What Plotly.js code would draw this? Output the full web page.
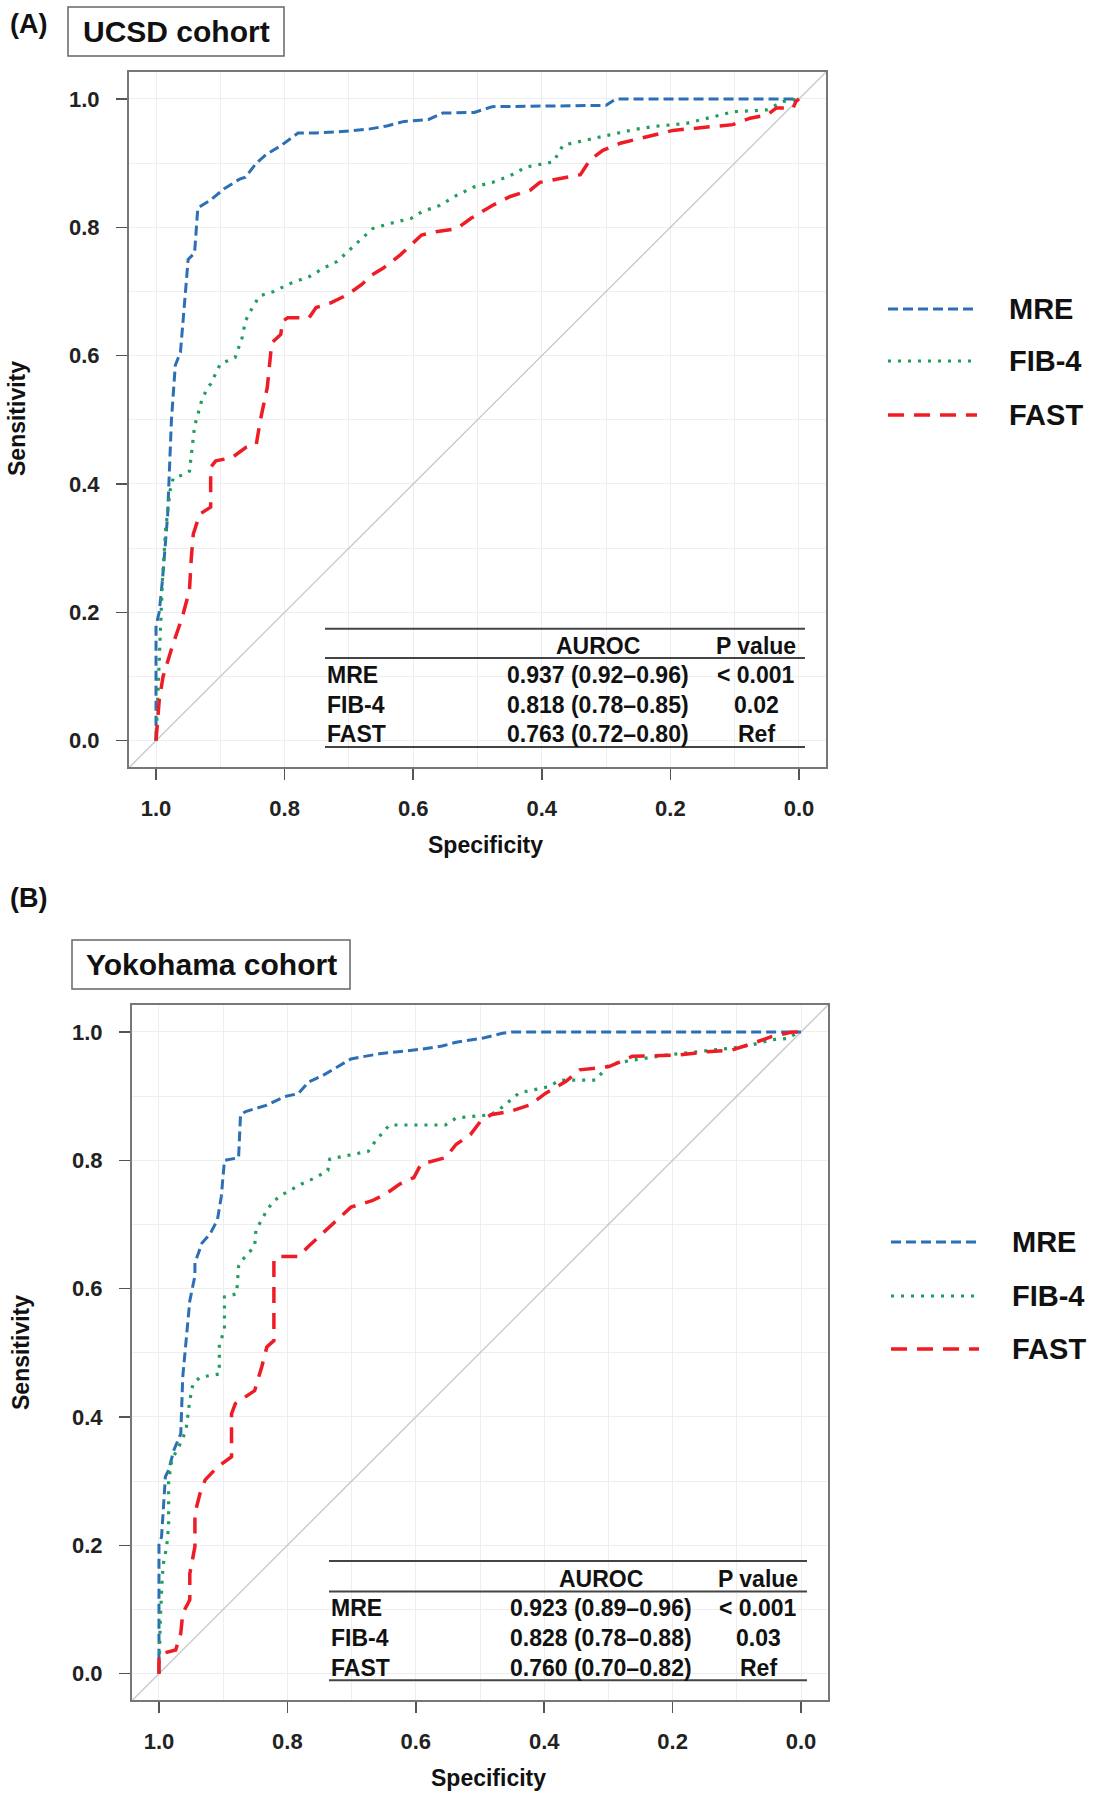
<!DOCTYPE html>
<html>
<head>
<meta charset="utf-8">
<script src="https://cdn.plot.ly/plotly-3.0.1.min.js"></script>
<style>
  body { margin: 0; background: #fff; }
  #chart { width: 1095px; height: 1800px; }
</style>
</head>
<body>
<div id="chart"></div>
<script>
// ROC curves: x = specificity, y = sensitivity
var seriesNames = ["MRE", "FIB-4", "FAST"];

// (A) UCSD cohort
var ucsdMreSpec = [1.0, 1.0, 0.995, 0.99, 0.982, 0.976, 0.970, 0.962, 0.950, 0.940, 0.935, 0.916, 0.894, 0.870, 0.861, 0.844, 0.828, 0.806, 0.779, 0.751, 0.700, 0.669, 0.641, 0.614, 0.576, 0.554, 0.505, 0.477, 0.300, 0.285, 0.0];
var ucsdMreSens = [0.0, 0.18, 0.20, 0.25, 0.35, 0.50, 0.585, 0.605, 0.75, 0.76, 0.83, 0.842, 0.86, 0.875, 0.878, 0.90, 0.914, 0.927, 0.947, 0.947, 0.95, 0.953, 0.958, 0.965, 0.968, 0.978, 0.979, 0.988, 0.99, 1.0, 1.0];

var ucsdFibSpec = [1.0, 0.998, 0.995, 0.99, 0.985, 0.978, 0.973, 0.955, 0.948, 0.945, 0.94, 0.929, 0.921, 0.915, 0.90, 0.877, 0.866, 0.861, 0.85, 0.839, 0.817, 0.79, 0.762, 0.74, 0.718, 0.702, 0.691, 0.674, 0.663, 0.636, 0.603, 0.587, 0.559, 0.532, 0.505, 0.477, 0.45, 0.424, 0.382, 0.367, 0.309, 0.258, 0.227, 0.175, 0.134, 0.103, 0.05, 0.025, 0.0];
var ucsdFibSens = [0.0, 0.05, 0.15, 0.25, 0.33, 0.39, 0.41, 0.415, 0.42, 0.45, 0.49, 0.53, 0.548, 0.556, 0.587, 0.597, 0.628, 0.654, 0.675, 0.693, 0.70, 0.713, 0.723, 0.736, 0.747, 0.762, 0.772, 0.788, 0.798, 0.806, 0.814, 0.824, 0.834, 0.85, 0.863, 0.87, 0.88, 0.894, 0.902, 0.928, 0.941, 0.952, 0.957, 0.962, 0.972, 0.98, 0.983, 0.996, 1.0];

var ucsdFastSpec = [1.0, 0.998, 0.995, 0.989, 0.975, 0.959, 0.948, 0.945, 0.942, 0.932, 0.915, 0.915, 0.907, 0.882, 0.86, 0.844, 0.838, 0.827, 0.82, 0.806, 0.803, 0.795, 0.762, 0.751, 0.729, 0.702, 0.68, 0.664, 0.647, 0.62, 0.587, 0.565, 0.532, 0.51, 0.477, 0.449, 0.418, 0.403, 0.372, 0.34, 0.325, 0.305, 0.278, 0.258, 0.227, 0.196, 0.134, 0.103, 0.076, 0.05, 0.035, 0.009, 0.005, 0.0];
var ucsdFastSens = [0.0, 0.03, 0.063, 0.10, 0.146, 0.193, 0.234, 0.286, 0.322, 0.353, 0.364, 0.426, 0.436, 0.441, 0.457, 0.462, 0.498, 0.55, 0.62, 0.633, 0.654, 0.659, 0.659, 0.675, 0.682, 0.695, 0.711, 0.726, 0.736, 0.757, 0.788, 0.793, 0.798, 0.814, 0.834, 0.848, 0.858, 0.87, 0.876, 0.882, 0.905, 0.92, 0.931, 0.936, 0.944, 0.951, 0.957, 0.96, 0.97, 0.975, 0.986, 0.986, 0.996, 1.0];

// (B) Yokohama cohort
var yokoMreSpec = [1.0, 1.0, 0.996, 0.99, 0.985, 0.977, 0.966, 0.963, 0.952, 0.944, 0.944, 0.933, 0.92, 0.909, 0.903, 0.898, 0.876, 0.873, 0.865, 0.832, 0.805, 0.783, 0.767, 0.745, 0.723, 0.701, 0.657, 0.592, 0.559, 0.537, 0.493, 0.465, 0.45, 0.0];
var yokoMreSens = [0.0, 0.203, 0.213, 0.307, 0.317, 0.348, 0.374, 0.462, 0.581, 0.62, 0.64, 0.671, 0.686, 0.707, 0.743, 0.80, 0.804, 0.871, 0.876, 0.886, 0.899, 0.904, 0.922, 0.932, 0.945, 0.958, 0.966, 0.973, 0.978, 0.984, 0.991, 0.998, 1.0, 1.0];

var yokoFibSpec = [1.0, 0.998, 0.995, 0.993, 0.988, 0.985, 0.985, 0.98, 0.966, 0.958, 0.952, 0.947, 0.936, 0.906, 0.906, 0.898, 0.898, 0.879, 0.876, 0.87, 0.851, 0.849, 0.832, 0.821, 0.805, 0.778, 0.756, 0.737, 0.734, 0.701, 0.674, 0.663, 0.641, 0.554, 0.537, 0.483, 0.47, 0.439, 0.392, 0.376, 0.32, 0.299, 0.263, 0.21, 0.159, 0.107, 0.076, 0.045, 0.019, 0.008, 0.0];
var yokoFibSens = [0.0, 0.08, 0.15, 0.172, 0.198, 0.23, 0.30, 0.333, 0.36, 0.379, 0.426, 0.452, 0.462, 0.467, 0.514, 0.535, 0.587, 0.592, 0.635, 0.645, 0.666, 0.691, 0.722, 0.737, 0.748, 0.763, 0.773, 0.784, 0.802, 0.809, 0.814, 0.83, 0.855, 0.855, 0.866, 0.871, 0.879, 0.905, 0.915, 0.925, 0.925, 0.949, 0.956, 0.964, 0.969, 0.975, 0.98, 0.988, 0.99, 0.998, 1.0];

var yokoFastSpec = [1.0, 1.0, 0.974, 0.966, 0.963, 0.952, 0.952, 0.944, 0.944, 0.936, 0.928, 0.909, 0.887, 0.887, 0.881, 0.865, 0.851, 0.84, 0.832, 0.821, 0.821, 0.816, 0.783, 0.767, 0.745, 0.723, 0.701, 0.668, 0.646, 0.625, 0.603, 0.592, 0.554, 0.537, 0.515, 0.499, 0.483, 0.454, 0.423, 0.397, 0.366, 0.345, 0.299, 0.263, 0.19, 0.148, 0.107, 0.076, 0.045, 0.014, 0.0];
var yokoFastSens = [0.0, 0.03, 0.037, 0.063, 0.094, 0.115, 0.156, 0.198, 0.25, 0.281, 0.302, 0.322, 0.338, 0.405, 0.421, 0.431, 0.441, 0.478, 0.509, 0.519, 0.645, 0.65, 0.65, 0.666, 0.686, 0.707, 0.727, 0.737, 0.748, 0.763, 0.773, 0.794, 0.804, 0.825, 0.84, 0.861, 0.871, 0.876, 0.886, 0.905, 0.923, 0.941, 0.946, 0.962, 0.964, 0.969, 0.972, 0.982, 0.993, 1.0, 1.0];

// table contents
var ucsdAuroc = ["0.937 (0.92\u20130.96)", "0.818 (0.78\u20130.85)", "0.763 (0.72\u20130.80)"];
var ucsdPvalue = ["< 0.001", "0.02", "Ref"];
var yokoAuroc = ["0.923 (0.89\u20130.96)", "0.828 (0.78\u20130.88)", "0.760 (0.70\u20130.82)"];
var yokoPvalue = ["< 0.001", "0.03", "Ref"];

// styling
var colors = ["#2c6fb5", "#1f9e5c", "#ee1c25"];
var dashes = ["10px,5px", "3px,7px", "16px,10px"];
var widths = [3, 3.2, 3.5];
var font = "Liberation Sans, Arial, sans-serif";

var W = 1095, H = 1800;
function px(x) { return x / W; }
function py(y) { return 1 - y / H; }

var xRange = [1.042, -0.042];
var yRange = [-0.041, 1.042];

var panels = [
  {
    tag: "(A)", cohort: "UCSD cohort", xa: "x", ya: "y",
    spec: [ucsdMreSpec, ucsdFibSpec, ucsdFastSpec],
    sens: [ucsdMreSens, ucsdFibSens, ucsdFastSens],
    auroc: ucsdAuroc, pval: ucsdPvalue,
    box: {l: 129, r: 826, t: 72, b: 767},
    tagY: 24, cohortBox: {l: 68, r: 284, t: 7, b: 56},
    ylabY: 419, ylabX: 17, xlab: {x: 485, y: 845},
    legendY: [309, 361, 415], legendX: [888, 977, 1007],
    table: {l: 325, r: 805, lines: [628.7, 658, 747], header: 645.6, rows: [675, 705, 733.5], aucX: 598, pX: 756}
  },
  {
    tag: "(B)", cohort: "Yokohama cohort", xa: "x2", ya: "y2",
    spec: [yokoMreSpec, yokoFibSpec, yokoFastSpec],
    sens: [yokoMreSens, yokoFibSens, yokoFastSens],
    auroc: yokoAuroc, pval: yokoPvalue,
    box: {l: 132, r: 828, t: 1005, b: 1700},
    tagY: 898, cohortBox: {l: 72, r: 350, t: 940, b: 989},
    ylabY: 1353, ylabX: 21, xlab: {x: 488, y: 1778},
    legendY: [1242, 1296, 1349], legendX: [891, 979, 1010],
    table: {l: 329, r: 807, lines: [1561, 1591.4, 1680.3], header: 1579, rows: [1607.6, 1638, 1667.8], aucX: 601, pX: 758}
  }
];

function axisStyle() {
  return {
    showline: true, mirror: true, linecolor: "#777", linewidth: 2,
    ticks: "outside", ticklen: 11, tickwidth: 1.5, tickcolor: "#555",
    tickmode: "linear", tick0: 0, dtick: 0.2, tickformat: ".1f",
    showgrid: true, gridcolor: "#eeeeee", gridwidth: 1,
    minor: {tick0: 0, dtick: 0.1, showgrid: true, gridcolor: "#eeeeee", gridwidth: 1, ticks: ""},
    zeroline: false, fixedrange: true,
    tickfont: {family: font, size: 22, color: "#222", weight: "bold"}
  };
}

var data = [];
var shapes = [];
var annotations = [];
var layout = {
  width: W, height: H,
  margin: {l: 0, r: 0, t: 0, b: 0},
  paper_bgcolor: "#fff", plot_bgcolor: "#fff",
  showlegend: false
};

function txt(text, x, y, size, opts) {
  var a = {
    text: text, xref: "paper", yref: "paper", x: px(x), y: py(y),
    xanchor: "center", yanchor: "middle", showarrow: false,
    font: {family: font, size: size, color: "#111", weight: "bold"}
  };
  for (var k in (opts || {})) a[k] = opts[k];
  return a;
}

function hline(x0, x1, y, color, width, dash) {
  return {
    type: "line", xref: "paper", yref: "paper",
    x0: px(x0), x1: px(x1), y0: py(y), y1: py(y),
    line: {color: color, width: width, dash: dash || "solid"}
  };
}

panels.forEach(function (p, k) {
  var xName = k === 0 ? "xaxis" : "xaxis2";
  var yName = k === 0 ? "yaxis" : "yaxis2";
  var xa = axisStyle();
  xa.domain = [px(p.box.l), px(p.box.r)];
  xa.range = xRange;
  xa.anchor = p.ya;
  xa.ticklabelstandoff = 10;
  var ya = axisStyle();
  ya.domain = [py(p.box.b), py(p.box.t)];
  ya.range = yRange;
  ya.anchor = p.xa;
  ya.ticklabelstandoff = 12;
  layout[xName] = xa;
  layout[yName] = ya;

  // chance line across the whole plot region
  data.push({
    x: xRange, y: xRange.map(function (v) { return 1 - v; }),
    xaxis: p.xa, yaxis: p.ya, mode: "lines", hoverinfo: "skip",
    line: {color: "#c6c6c6", width: 1.3}
  });

  // ROC curves
  for (var i = 0; i < 3; i++) {
    data.push({
      x: p.spec[i], y: p.sens[i], name: seriesNames[i],
      xaxis: p.xa, yaxis: p.ya, mode: "lines",
      line: {color: colors[i], width: widths[i], dash: dashes[i]}
    });
  }

  // panel tag and cohort box
  annotations.push(txt(p.tag, 8, p.tagY, 27, {xanchor: "left"}));
  shapes.push({
    type: "rect", xref: "paper", yref: "paper",
    x0: px(p.cohortBox.l), x1: px(p.cohortBox.r), y0: py(p.cohortBox.b), y1: py(p.cohortBox.t),
    line: {color: "#666", width: 1.5}, fillcolor: "rgba(0,0,0,0)"
  });
  annotations.push(txt(p.cohort, (p.cohortBox.l + p.cohortBox.r) / 2, (p.cohortBox.t + p.cohortBox.b) / 2, 30));

  // axis titles
  annotations.push(txt("Sensitivity", p.ylabX, p.ylabY, 23, {textangle: -90}));
  annotations.push(txt("Specificity", p.xlab.x, p.xlab.y, 23));

  // legend on the right
  for (var j = 0; j < 3; j++) {
    shapes.push(hline(p.legendX[0], p.legendX[1], p.legendY[j], colors[j], widths[j], dashes[j]));
    annotations.push(txt(seriesNames[j], p.legendX[2], p.legendY[j], 29, {xanchor: "left"}));
  }

  // AUROC table
  var t = p.table;
  t.lines.forEach(function (y) { shapes.push(hline(t.l, t.r, y, "#444", 2)); });
  annotations.push(txt("AUROC", t.aucX, t.header, 23));
  annotations.push(txt("P value", t.pX, t.header, 23));
  for (var r = 0; r < 3; r++) {
    annotations.push(txt(seriesNames[r], t.l, t.rows[r], 23, {xanchor: "left"}));
    annotations.push(txt(p.auroc[r], t.aucX, t.rows[r], 23));
    annotations.push(txt(p.pval[r], t.pX, t.rows[r], 23));
  }
});

layout.shapes = shapes;
layout.annotations = annotations;

Plotly.newPlot("chart", data, layout, {displayModeBar: false, staticPlot: true});
</script>
</body>
</html>
